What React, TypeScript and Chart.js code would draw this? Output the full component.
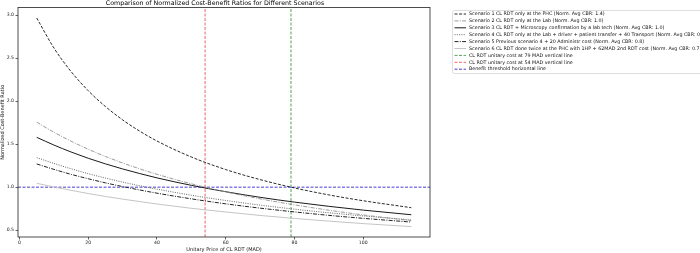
import React, { useEffect, useRef } from "react";
import { Chart, registerables } from "chart.js";

Chart.register(...registerables);

const X_VALUES = [5, 10, 15, 20, 25, 30, 35, 40, 50, 60, 70, 80, 90, 100, 114];
const S1 = [2.968, 2.62, 2.345, 2.122, 1.938, 1.783, 1.651, 1.537, 1.351, 1.205, 1.088, 0.991, 0.91, 0.842, 0.761];
const S2 = [1.756, 1.639, 1.535, 1.441, 1.357, 1.282, 1.213, 1.15, 1.039, 0.945, 0.864, 0.794, 0.732, 0.677, 0.61];
const S3 = [1.58, 1.49, 1.409, 1.336, 1.271, 1.212, 1.158, 1.108, 1.021, 0.947, 0.882, 0.826, 0.777, 0.733, 0.679];
const S4 = [1.344, 1.276, 1.214, 1.157, 1.106, 1.059, 1.016, 0.977, 0.906, 0.845, 0.791, 0.744, 0.702, 0.665, 0.619];
const S5 = [1.27, 1.207, 1.149, 1.098, 1.05, 1.007, 0.967, 0.93, 0.864, 0.806, 0.756, 0.712, 0.672, 0.637, 0.594];
const S6 = [1.045, 1.002, 0.963, 0.926, 0.892, 0.861, 0.832, 0.804, 0.754, 0.711, 0.671, 0.636, 0.605, 0.576, 0.541];

const SERIES_LABELS = [
  "Scenario 1 CL RDT only at the PHC (Norm. Avg CBR: 1.4)",
  "Scenario 2 CL RDT only at the Lab (Norm. Avg CBR: 1.0)",
  "Scenario 3 CL RDT + Microscopy confirmation by a lab tech (Norm. Avg CBR: 1.0)",
  "Scenario 4 CL RDT only at the Lab + driver + patient transfer + 40 Transport (Norm. Avg CBR: 0.9)",
  "Scenario 5 Previous scenario 4 + 20 Administr cost (Norm. Avg CBR: 0.8)",
  "Scenario 6 CL RDT done twice at the PHC with 1HP + 62MAD 2nd RDT cost (Norm. Avg CBR: 0.7)",
];
const VLINE_A = 79;
const VLINE_B = 54;
const THRESHOLD = 1.0;
const REF_LABELS = [
  "CL RDT unitary cost at 79 MAD vertical line",
  "CL RDT unitary cost at 54 MAD vertical line",
  "Benefit threshold horizontal line",
];
const X_TICKS = [0, 20, 40, 60, 80, 100];
const Y_TICKS = [0.5, 1.0, 1.5, 2.0, 2.5, 3.0];
const X_MIN = -0.45;
const X_MAX = 119.45;
const Y_MIN = 0.42;
const Y_MAX = 3.09;

const TITLE = "Comparison of Normalized Cost-Benefit Ratios for Different Scenarios";
const X_TITLE = "Unitary Price of CL RDT (MAD)";
const Y_TITLE = "Normalized Cost-Benefit Ratio";

const FONT = "DejaVu Sans";

const SERIES = [S1, S2, S3, S4, S5, S6];
const SERIES_STYLE = [
  { color: "#111111", dash: [3, 1.6], width: 0.9 },
  { color: "#8f8f8f", dash: [4, 1.3, 1, 1.3], width: 0.9 },
  { color: "#1a1a1a", dash: [], width: 1.0 },
  { color: "#555555", dash: [1, 1.3], width: 0.9 },
  { color: "#222222", dash: [4, 1.3, 1, 1.3], width: 1.0 },
  { color: "#bdbdbd", dash: [], width: 0.9 },
];

const frameAndLegend = {
  id: "frameAndLegend",
  afterDraw(chart: any) {
    const ctx = chart.ctx;
    const a = chart.chartArea;
    ctx.save();
    ctx.strokeStyle = "#222";
    ctx.lineWidth = 0.8;
    ctx.setLineDash([]);
    ctx.strokeRect(a.left, a.top, a.right - a.left, a.bottom - a.top);

    // legend
    const x0 = 452.5;
    const y0 = 10.5;
    const w = 260;
    const h = 63;
    ctx.fillStyle = "rgba(255,255,255,0.9)";
    ctx.strokeStyle = "#d6d6d6";
    ctx.lineWidth = 0.8;
    ctx.beginPath();
    ctx.roundRect(x0, y0, w, h, 2);
    ctx.fill();
    ctx.stroke();
    ctx.font = `4.8px "${FONT}"`;
    ctx.textBaseline = "middle";
    ctx.textAlign = "left";
    chart.data.datasets.forEach((ds: any, i: number) => {
      const y = 14 + i * 6.9;
      ctx.strokeStyle = ds.borderColor;
      ctx.lineWidth = ds.borderWidth;
      ctx.setLineDash(ds.borderDash || []);
      ctx.beginPath();
      ctx.moveTo(454.5, y);
      ctx.lineTo(466, y);
      ctx.stroke();
      ctx.setLineDash([]);
      ctx.fillStyle = "#111";
      ctx.fillText(ds.label, 469, y);
    });
    ctx.restore();
  },
};

export default function App() {
  const ref = useRef<HTMLCanvasElement | null>(null);
  useEffect(() => {
    if (!ref.current) return;
    const datasets: any[] = SERIES.map((s, i) => ({
      label: SERIES_LABELS[i],
      data: X_VALUES.map((x, j) => ({ x, y: s[j] })),
      borderColor: SERIES_STYLE[i].color,
      borderDash: SERIES_STYLE[i].dash,
      borderWidth: SERIES_STYLE[i].width,
      pointRadius: 0,
      cubicInterpolationMode: "monotone",
      fill: false,
    }));
    datasets.push({
      label: REF_LABELS[0],
      data: [{ x: VLINE_A, y: Y_MIN }, { x: VLINE_A, y: Y_MAX }],
      borderColor: "rgba(0,120,0,0.75)",
      borderDash: [3, 1.5],
      borderWidth: 0.9,
      pointRadius: 0,
    });
    datasets.push({
      label: REF_LABELS[1],
      data: [{ x: VLINE_B, y: Y_MIN }, { x: VLINE_B, y: Y_MAX }],
      borderColor: "rgba(255,0,0,0.7)",
      borderDash: [3, 1.5],
      borderWidth: 0.9,
      pointRadius: 0,
    });
    datasets.push({
      label: REF_LABELS[2],
      data: [{ x: X_MIN, y: THRESHOLD }, { x: X_MAX, y: THRESHOLD }],
      borderColor: "rgba(20,0,200,0.85)",
      borderDash: [3, 1.5],
      borderWidth: 0.9,
      pointRadius: 0,
    });

    const chart = new Chart(ref.current, {
      type: "line",
      data: { datasets },
      plugins: [frameAndLegend],
      options: {
        animation: false,
        responsive: false,
        devicePixelRatio: 1,
        layout: { padding: { left: 0, right: 270, top: 0, bottom: 0 } },
        plugins: {
          legend: { display: false },
          tooltip: { enabled: false },
          title: {
            display: true,
            text: TITLE,
            color: "#000",
            font: { family: FONT, size: 6.3, weight: "normal" },
            padding: { top: 0, bottom: 0 },
          },
        },
        scales: {
          x: {
            type: "linear",
            min: X_MIN,
            max: X_MAX,
            afterBuildTicks: (s: any) => {
              s.ticks = X_TICKS.map((v) => ({ value: v }));
            },
            afterFit: (s: any) => {
              s.height = 16;
            },
            ticks: {
              color: "#222",
              font: { family: FONT, size: 4.6 },
              padding: 1,
              maxRotation: 0,
              callback: (v: any) => String(v),
            },
            grid: { drawOnChartArea: false, drawTicks: true, tickLength: 2.5, color: "#222", lineWidth: 0.7 },
            border: { display: false },
            title: {
              display: true,
              text: X_TITLE,
              color: "#111",
              font: { family: FONT, size: 5 },
              padding: { top: 0, bottom: 0 },
            },
          },
          y: {
            type: "linear",
            min: Y_MIN,
            max: Y_MAX,
            afterBuildTicks: (s: any) => {
              s.ticks = Y_TICKS.map((v) => ({ value: v }));
            },
            afterFit: (s: any) => {
              s.width = 18;
            },
            ticks: {
              color: "#222",
              font: { family: FONT, size: 4.6 },
              padding: 1.5,
              callback: (v: any) => Number(v).toFixed(1),
            },
            grid: { drawOnChartArea: false, drawTicks: true, tickLength: 2.5, color: "#222", lineWidth: 0.7 },
            border: { display: false },
            title: {
              display: true,
              text: Y_TITLE,
              color: "#111",
              font: { family: FONT, size: 5 },
              padding: { top: 0, bottom: 0 },
            },
          },
        },
      } as any,
    });
    return () => chart.destroy();
  }, []);

  return (
    <div style={{ position: "fixed", left: 0, top: 0, width: 700, height: 253, background: "#fff" }}>
      <canvas ref={ref} width={700} height={253} style={{ width: 700, height: 253, display: "block" }} />
    </div>
  );
}
